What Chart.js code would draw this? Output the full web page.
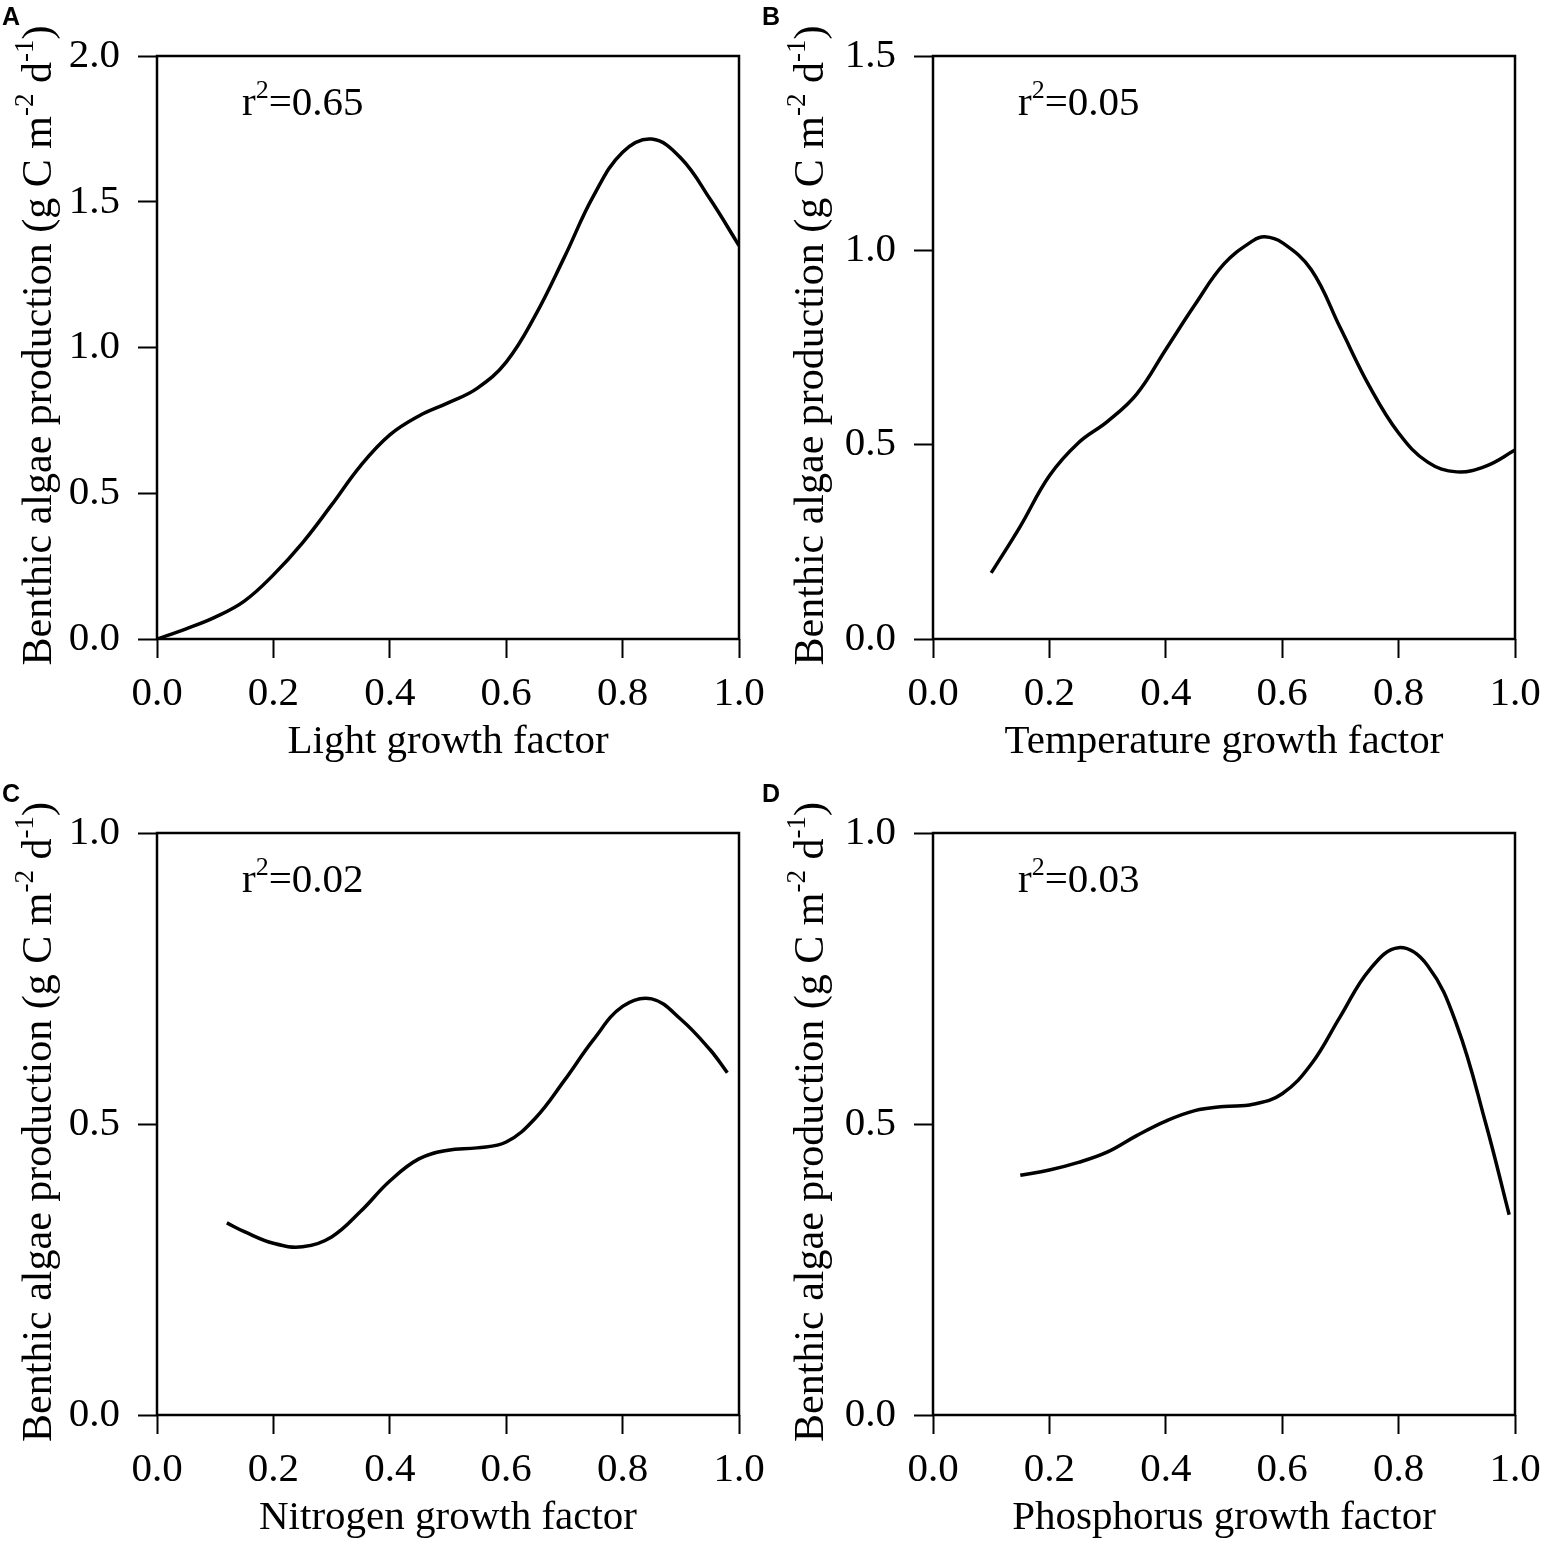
<!DOCTYPE html>
<html lang="en">
<head>
  <meta charset="UTF-8">
  <title>Benthic algae production vs growth factors</title>
  <script src="https://cdn.jsdelivr.net/npm/chart.js"></script>
  <style>
    body {
      margin: 0;
      background: #fff;
      width: 1544px;
      height: 1544px;
      position: relative;
      overflow: hidden;
    }
    .panel {
      position: absolute;
    }
    .letter {
      position: absolute;
      font-family: "Liberation Sans", Arial, sans-serif;
      font-weight: bold;
      font-size: 25px;
      line-height: 1;
      color: #000;
    }
  </style>
</head>
<body>

  <div class="panel" style="left:0;top:0;width:772px;height:777px"><canvas id="chartA"></canvas></div>
  <div class="panel" style="left:772px;top:0;width:772px;height:777px"><canvas id="chartB"></canvas></div>
  <div class="panel" style="left:0;top:777px;width:772px;height:767px"><canvas id="chartC"></canvas></div>
  <div class="panel" style="left:772px;top:777px;width:772px;height:767px"><canvas id="chartD"></canvas></div>

  <div class="letter" style="left:2px;top:4px">A</div>
  <div class="letter" style="left:762px;top:4px">B</div>
  <div class="letter" style="left:2px;top:781px">C</div>
  <div class="letter" style="left:762px;top:781px">D</div>

  <script>
    // Fitted curves
    const lightX = [0, 0.05, 0.1, 0.15, 0.2, 0.25, 0.3, 0.35, 0.4, 0.45, 0.5, 0.55, 0.6, 0.65, 0.7, 0.75, 0.8, 0.85, 0.9, 0.95, 1.0];
    const lightY = [0, 0.035, 0.075, 0.13, 0.22, 0.33, 0.46, 0.595, 0.70, 0.765, 0.81, 0.86, 0.95, 1.11, 1.31, 1.52, 1.67, 1.715, 1.65, 1.51, 1.35];

    const tempX = [0.1, 0.15, 0.2, 0.25, 0.3, 0.35, 0.4, 0.45, 0.5, 0.55, 0.57, 0.6, 0.65, 0.7, 0.75, 0.8, 0.85, 0.9, 0.95, 1.0];
    const tempY = [0.17, 0.29, 0.42, 0.505, 0.56, 0.63, 0.745, 0.86, 0.965, 1.025, 1.035, 1.02, 0.95, 0.80, 0.65, 0.53, 0.455, 0.43, 0.445, 0.486];

    const nitroX = [0.12, 0.15, 0.2, 0.25, 0.3, 0.35, 0.4, 0.45, 0.5, 0.55, 0.6, 0.65, 0.7, 0.75, 0.8, 0.85, 0.9, 0.95, 0.98];
    const nitroY = [0.33, 0.315, 0.295, 0.289, 0.306, 0.35, 0.402, 0.44, 0.455, 0.459, 0.469, 0.51, 0.575, 0.645, 0.702, 0.715, 0.68, 0.628, 0.588];

    const phosX = [0.15, 0.2, 0.25, 0.3, 0.35, 0.4, 0.45, 0.5, 0.55, 0.6, 0.65, 0.7, 0.75, 0.8, 0.85, 0.9, 0.95, 0.99];
    const phosY = [0.412, 0.421, 0.434, 0.452, 0.48, 0.505, 0.523, 0.53, 0.534, 0.552, 0.603, 0.685, 0.765, 0.803, 0.772, 0.67, 0.5, 0.344];

    const xLabels = ["Light growth factor", "Temperature growth factor", "Nitrogen growth factor", "Phosphorus growth factor"];
    const rSquared = ["0.65", "0.05", "0.02", "0.03"];
    const yMaxes = [2.0, 1.5, 1.0, 1.0];

    const SERIF = '"Liberation Serif", "Times New Roman", serif';
    const FS = 41;
    const YFS = 42;

    // Draws a sequence of [text, isSuperscript] pieces starting at x (left aligned)
    function drawPieces(ctx, pieces, x, y, size) {
      let cx = x;
      pieces.forEach(([txt, sup]) => {
        ctx.font = (sup ? Math.round(size * 0.64) : size) + 'px ' + SERIF;
        ctx.fillText(txt, cx, sup ? y - size * 0.42 : y);
        cx += ctx.measureText(txt).width;
      });
    }
    function piecesWidth(ctx, pieces, size) {
      let w = 0;
      pieces.forEach(([txt, sup]) => {
        ctx.font = (sup ? Math.round(size * 0.64) : size) + 'px ' + SERIF;
        w += ctx.measureText(txt).width;
      });
      return w;
    }

    const yTitle = [["Benthic algae production (g C m", false], ["-2", true], [" d", false], ["-1", true], [")", false]];

    // Box, r² note and axis titles
    const decorPlugin = {
      id: 'decor',
      afterDraw(chart, args, opts) {
        const ctx = chart.ctx;
        const a = chart.chartArea;
        ctx.save();
        ctx.strokeStyle = '#000';
        ctx.lineWidth = 2.5;
        ctx.strokeRect(a.left, a.top, a.right - a.left, a.bottom - a.top);

        ctx.fillStyle = '#000';
        ctx.textBaseline = 'alphabetic';
        ctx.textAlign = 'left';
        drawPieces(ctx, [["r", false], ["2", true], ["=" + opts.r2, false]], a.left + 85, a.top + 59, FS);

        // x title
        ctx.font = FS + 'px ' + SERIF;
        ctx.textAlign = 'center';
        ctx.fillText(opts.xTitle, (a.left + a.right) / 2, a.bottom + 114);

        // y title, rotated
        ctx.textAlign = 'left';
        const w = piecesWidth(ctx, yTitle, YFS);
        ctx.translate(51, (a.top + a.bottom) / 2 - 2);
        ctx.rotate(-Math.PI / 2);
        drawPieces(ctx, yTitle, -w / 2, 0, YFS);
        ctx.restore();
      }
    };

    function makeChart(id, xs, ys, idx, leftW, rightPad, bottomH) {
      const pts = xs.map((x, i) => ({ x: x, y: ys[i] }));
      return new Chart(document.getElementById(id), {
        type: 'line',
        data: {
          datasets: [{
            data: pts,
            borderColor: '#000',
            borderWidth: 3.5,
            pointRadius: 0,
            tension: 0.4,
            fill: false
          }]
        },
        options: {
          responsive: true,
          maintainAspectRatio: false,
          animation: false,
          layout: { padding: { top: 56, right: rightPad, left: 0, bottom: 0 } },
          plugins: {
            legend: { display: false },
            tooltip: { enabled: false },
            decor: { r2: rSquared[idx], xTitle: xLabels[idx] }
          },
          scales: {
            x: {
              type: 'linear',
              min: 0,
              max: 1,
              border: { display: false },
              grid: { drawOnChartArea: false, drawTicks: true, tickLength: 19, tickWidth: 2, tickColor: '#000', color: '#000' },
              ticks: {
                stepSize: 0.2,
                color: '#000',
                padding: 12,
                maxRotation: 0,
                font: { family: SERIF, size: FS },
                callback: v => v.toFixed(1)
              },
              afterFit: s => { s.height = bottomH; s.paddingLeft = 0; s.paddingRight = 0; }
            },
            y: {
              min: 0,
              max: yMaxes[idx],
              border: { display: false },
              grid: { drawOnChartArea: false, drawTicks: true, tickLength: 19, tickWidth: 2, tickColor: '#000', color: '#000' },
              ticks: {
                stepSize: 0.5,
                color: '#000',
                padding: 18,
                font: { family: SERIF, size: FS },
                callback: v => v.toFixed(1)
              },
              afterFit: s => { s.width = leftW; s.paddingTop = 0; s.paddingBottom = 0; }
            }
          }
        },
        plugins: [decorPlugin]
      });
    }

    makeChart('chartA', lightX, lightY, 0, 157, 33, 138);
    makeChart('chartB', tempX, tempY, 1, 161, 29, 138);
    makeChart('chartC', nitroX, nitroY, 2, 157, 33, 129);
    makeChart('chartD', phosX, phosY, 3, 161, 29, 129);
  </script>

</body>
</html>
